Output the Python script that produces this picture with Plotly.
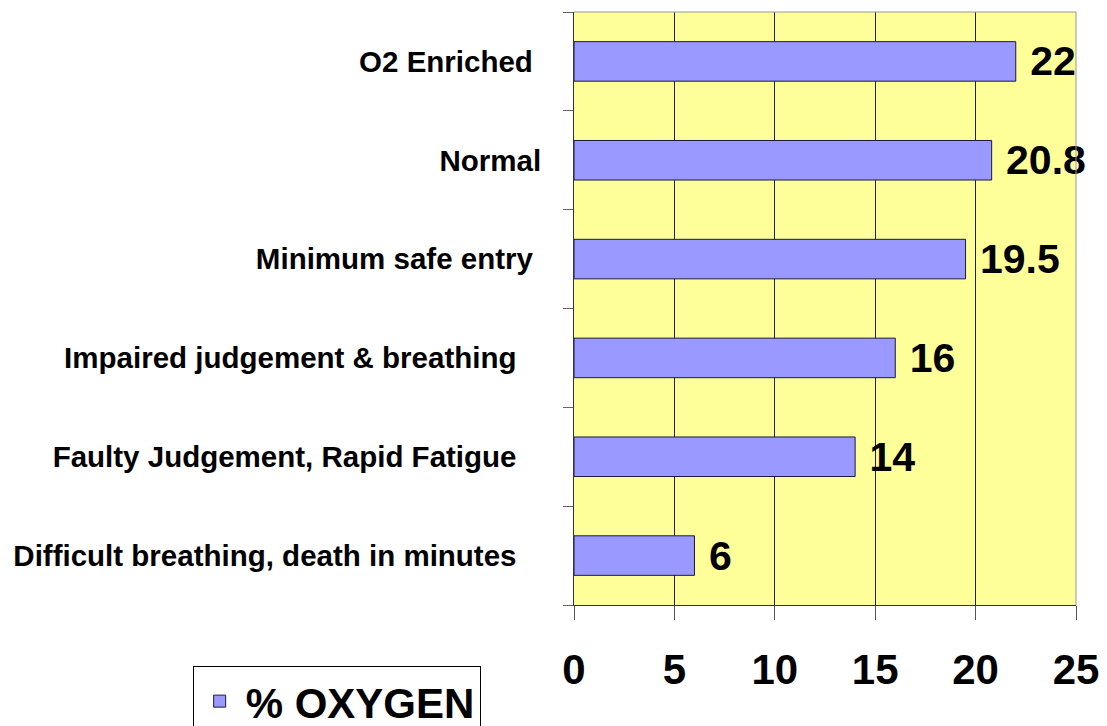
import plotly.graph_objects as go

NBSP = "\u00a0"
categories = [
    "O2 Enriched",
    "Normal",
    "Minimum safe entry",
    "Impaired judgement & breathing",
    "Faulty Judgement, Rapid Fatigue",
    "Difficult breathing, death in minutes",
]
label_pad = [1, 0, 1, 3, 3, 3]
values = [22, 20.8, 19.5, 16, 14, 6]
value_labels = ["22", "20.8", "19.5", "16", "14", "6"]
series_name = "% OXYGEN"
x_ticks = [0, 5, 10, 15, 20, 25]

FONT = "Arial, 'Liberation Sans', sans-serif"

tick_text = [c + NBSP * p for c, p in zip(categories, label_pad)]

# page body has an 8px margin; figure is sized so it fits the 1107x726 window
W, H = 1099, 718
PL, PR, PT, PB = 565.5, 1067.7, 4, 596.7

fig = go.Figure()
fig.add_trace(go.Bar(
    y=categories,
    x=values,
    orientation="h",
    name=series_name,
    marker=dict(color="#9999FF", line=dict(color="#1a1a40", width=1)),
    text=[NBSP + t for t in value_labels],
    textposition="outside",
    textfont=dict(family=FONT, size=41, color="#000000", weight="bold"),
    constraintext="none",
    cliponaxis=False,
    width=0.4,
))

fig.update_layout(
    width=W, height=H,
    margin=dict(l=PL, r=W - PR, t=PT, b=H - PB, pad=0, autoexpand=False),
    paper_bgcolor="#FFFFFF",
    plot_bgcolor="#FFFF99",
    font=dict(family=FONT, color="#000000"),
    showlegend=True,
    legend=dict(
        x=(184 - PL) / (PR - PL), y=(PB - 658) / (PB - PT),
        xanchor="left", yanchor="top",
        itemwidth=42,
        bgcolor="#FFFFFF", bordercolor="#000000", borderwidth=1,
        font=dict(family=FONT, size=42, color="#000000", weight="bold"),
    ),
    xaxis=dict(
        range=[0, 25],
        automargin=False,
        tickvals=x_ticks,
        ticktext=[str(v) for v in x_ticks],
        showgrid=True, gridcolor="#222222", gridwidth=1,
        zeroline=False,
        showline=True, linecolor="#333333", linewidth=1,
        ticks="outside", ticklen=14, tickcolor="#555555",
        ticklabelstandoff=14,
        tickfont=dict(family=FONT, size=42, color="#000000", weight="bold"),
    ),
    yaxis=dict(
        automargin=False,
        categoryorder="array", categoryarray=categories,
        autorange="reversed",
        tickvals=categories, ticktext=tick_text,
        tickson="boundaries",
        showgrid=False, zeroline=False,
        showline=True, linecolor="#333333", linewidth=1,
        ticks="outside", ticklen=10, tickcolor="#666666",
        ticklabelstandoff=26,
        tickfont=dict(family=FONT, size=29.5, color="#000000", weight="bold"),
    ),
    shapes=[
        dict(type="line", xref="paper", yref="paper", x0=0, x1=1, y0=1, y1=1,
             line=dict(color="#999999", width=1), layer="above"),
        dict(type="line", xref="paper", yref="paper", x0=1, x1=1, y0=0, y1=1,
             line=dict(color="#999999", width=1), layer="above"),
    ],
)

fig.write_html("out.html")
